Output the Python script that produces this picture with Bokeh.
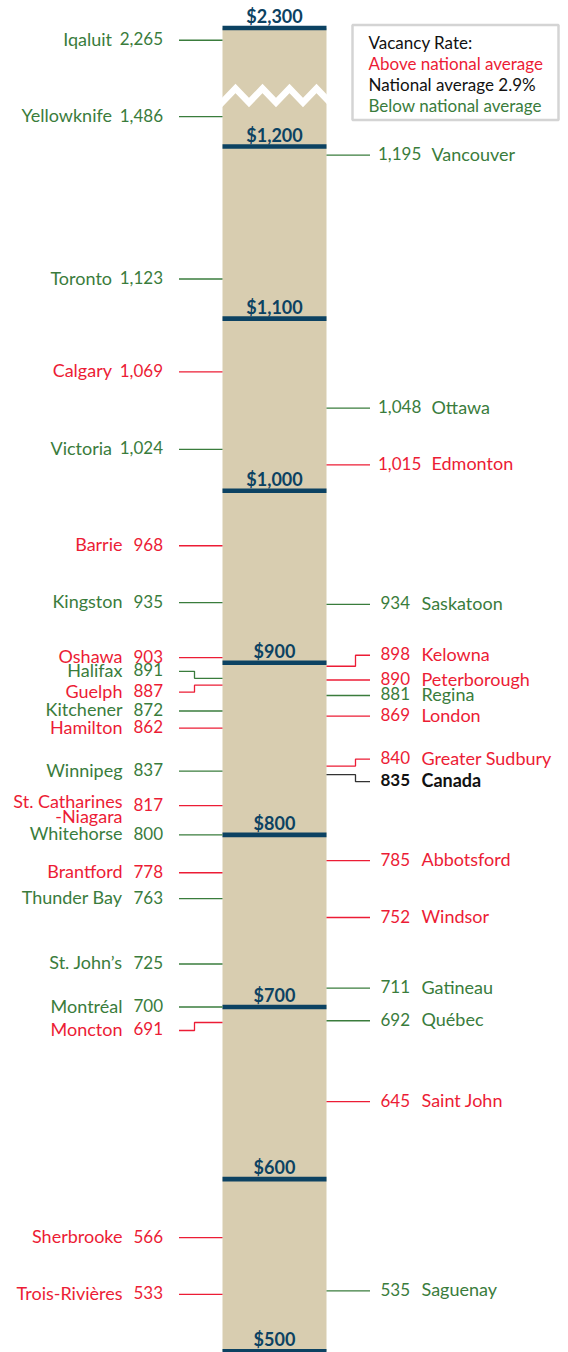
import numpy as np
from bokeh.plotting import figure
from bokeh.models import Range1d
from bokeh.core.properties import value
from bokeh.embed import file_html
from bokeh.resources import INLINE

# ---------------- data ----------------
left_cities = ["Iqaluit", "Yellowknife", "Toronto", "Calgary", "Victoria", "Barrie",
               "Kingston", "Oshawa", "Halifax", "Guelph", "Kitchener", "Hamilton",
               "Winnipeg", "St. Catharines\n-Niagara", "Whitehorse", "Brantford",
               "Thunder Bay", "St. John\u2019s", "Montr\u00e9al", "Moncton",
               "Sherbrooke", "Trois-Rivi\u00e8res"]
left_rents = [2265, 1486, 1123, 1069, 1024, 968, 935, 903, 891, 887, 872, 862,
              837, 817, 800, 778, 763, 725, 700, 691, 566, 533]
left_vacancy = ["below", "below", "below", "above", "below", "above", "below",
                "above", "below", "above", "below", "above", "below", "above",
                "below", "above", "below", "below", "below", "above", "above", "above"]

right_cities = ["Vancouver", "Ottawa", "Edmonton", "Saskatoon", "Kelowna",
                "Peterborough", "Regina", "London", "Greater Sudbury", "Canada",
                "Abbotsford", "Windsor", "Gatineau", "Qu\u00e9bec", "Saint John", "Saguenay"]
right_rents = [1195, 1048, 1015, 934, 898, 890, 881, 869, 840, 835, 785, 752,
               711, 692, 645, 535]
right_vacancy = ["below", "below", "above", "below", "above", "above", "below",
                 "above", "above", "national", "above", "above", "below", "below",
                 "above", "below"]

tick_values = [500, 600, 700, 800, 900, 1000, 1100, 1200, 2300]
tick_labels = ["$500", "$600", "$700", "$800", "$900", "$1,000", "$1,100",
               "$1,200", "$2,300"]

legend_title = "Vacancy Rate:"
legend_keys = ["above", "national", "below"]
legend_texts = ["Above national average", "National average 2.9%",
                "Below national average"]

# ---------------- styles / layout ----------------
RED = "#ec1c35"
GREEN = "#3a7c3c"
BLACK = "#111111"
NAVY = "#0c4262"
TAN = "#d8cdb0"
COLORS = {"above": RED, "below": GREEN, "national": BLACK}
LEADER_COLORS = {"above": RED, "below": GREEN, "national": "#333333"}
FONT = value("Lato")
FS_NAME = "18px"
FS_NUM = "17px"
FS_LEG = "17px"
TXT_FIX = 6.0  # renderer places alphabetic baseline a bit low

W, H = 568, 1352
Y1200_PAGE = 146.0
Y500_PAGE = 1350.7
PX = (Y500_PAGE - Y1200_PAGE) / 700.0
# broken axis: value -> page position
AXIS_V = [500, 1200, 1500, 2250, 2300]
AXIS_PAGE = [Y500_PAGE, Y1200_PAGE, 114.6, 45.0, 27.5]


def page_to_data(py):
    return 1200.0 + (Y1200_PAGE - py) / PX


def pos(v):
    return page_to_data(float(np.interp(v, AXIS_V, AXIS_PAGE)))


def shift(y, px):  # px > 0 moves down
    return y - px / PX


BAR_L, BAR_R = 222.0, 326.0
BAR_C = (BAR_L + BAR_R) / 2
L_LEAD0, L_STEP = 178.5, 194.0
R_LEAD1, R_STEP = 369.5, 355.0
LABEL_SHIFT = {"Halifax": -7, "Guelph": 7, "Moncton": 8,
               "Kelowna": -11, "Greater Sudbury": -7, "Canada": 7}

p = figure(width=W, height=H, x_range=Range1d(0, W),
           y_range=Range1d(page_to_data(H), page_to_data(0)),
           output_backend="svg", toolbar_location=None,
           x_axis_type=None, y_axis_type=None, min_border=0)
p.grid.visible = False
p.outline_line_color = None
p.background_fill_color = "white"
p.border_fill_color = "white"

# bar
p.quad(left=BAR_L, right=BAR_R, bottom=pos(tick_values[0]), top=pos(tick_values[-1]),
       fill_color=TAN, line_color=None)

# zigzag break
zz_x = [208, 221.5, 235, 248.5, 262, 275.5, 289, 302.5, 316, 329.5, 343]
zz_hi, zz_lo = page_to_data(88), page_to_data(102)
zz_y = [zz_hi if i % 2 == 0 else zz_lo for i in range(len(zz_x))]
p.line(zz_x, zz_y, line_color="white", line_width=6.5, line_join="miter")

# ticks
tick_y = [pos(t) for t in tick_values]
p.segment(x0=BAR_L, x1=BAR_R, y0=tick_y, y1=tick_y, line_color=NAVY, line_width=4.6)
p.text(x=[BAR_C] * len(tick_y), y=[shift(y, -12) for y in tick_y], text=tick_labels,
       text_font=FONT, text_font_style="bold", text_font_size="18px",
       text_align="center", text_baseline="alphabetic", text_color=NAVY)

# leaders + labels
lx, ly, lc = [], [], []
num_x, num_y, num_t, num_c, num_a, num_s = [], [], [], [], [], []
nm_x, nm_y, nm_t, nm_c, nm_a, nm_s = [], [], [], [], [], []


def add_label(side, name, rent, vac):
    key = name.split("\n")[0]
    yv = pos(rent)
    yl = shift(yv, LABEL_SHIFT.get(key, 0))
    col = COLORS[vac]
    style = "bold" if vac == "national" else "normal"
    if side == "left":
        if yl != yv:
            lx.append([L_LEAD0, L_STEP, L_STEP, BAR_L]); ly.append([yl, yl, yv, yv])
        else:
            lx.append([L_LEAD0, BAR_L]); ly.append([yv, yv])
    else:
        if yl != yv:
            lx.append([BAR_R, R_STEP, R_STEP, R_LEAD1]); ly.append([yv, yv, yl, yl])
        else:
            lx.append([BAR_R, R_LEAD1]); ly.append([yv, yv])
    lc.append(LEADER_COLORS[vac])
    s = f"{rent:,}"
    long = len(s) > 3
    if side == "left":
        nx_num, a_num = 162.5, "right"
        nx_name, a_name = (111.5 if long else 122.0), "right"
    else:
        nx_num, a_num = (377.5 if long else 380.0), "left"
        nx_name, a_name = (431.0 if long else 421.0), "left"
    num_x.append(nx_num); num_y.append(shift(yl, 4.5 - TXT_FIX)); num_t.append(s)
    num_c.append(col); num_a.append(a_num); num_s.append(style)
    lines = name.split("\n")
    for i, ln in enumerate(lines):
        off = 4.5 - TXT_FIX + (-3.5 if len(lines) > 1 else 0) + 15 * i
        nm_x.append(nx_name); nm_y.append(shift(yl, off)); nm_t.append(ln)
        nm_c.append(col); nm_a.append(a_name); nm_s.append(style)


for n, r, v in zip(left_cities, left_rents, left_vacancy):
    add_label("left", n, r, v)
for n, r, v in zip(right_cities, right_rents, right_vacancy):
    add_label("right", n, r, v)

p.multi_line(xs=lx, ys=ly, line_color=lc, line_width=1.3)
p.text(x=num_x, y=num_y, text=num_t, text_color=num_c, text_align=num_a,
       text_font_style=num_s, text_font=FONT, text_font_size=FS_NUM,
       text_baseline="alphabetic")
p.text(x=nm_x, y=nm_y, text=nm_t, text_color=nm_c, text_align=nm_a,
       text_font_style=nm_s, text_font=FONT, text_font_size=FS_NAME,
       text_baseline="alphabetic")

# legend box
p.quad(left=352, right=558, top=page_to_data(24.5), bottom=page_to_data(119.5),
       fill_color="white", line_color="#d4d4d4", line_width=2.5)
leg_t = [legend_title] + legend_texts
leg_c = [BLACK] + [COLORS[k] for k in legend_keys]
leg_y = [page_to_data(b - TXT_FIX) for b in (48, 68.5, 90, 111)]
p.text(x=[368] * 4, y=leg_y, text=leg_t, text_color=leg_c, text_font=FONT,
       text_font_size=FS_LEG, text_align="left", text_baseline="alphabetic")

open("out.html", "w").write(file_html(p, INLINE))
